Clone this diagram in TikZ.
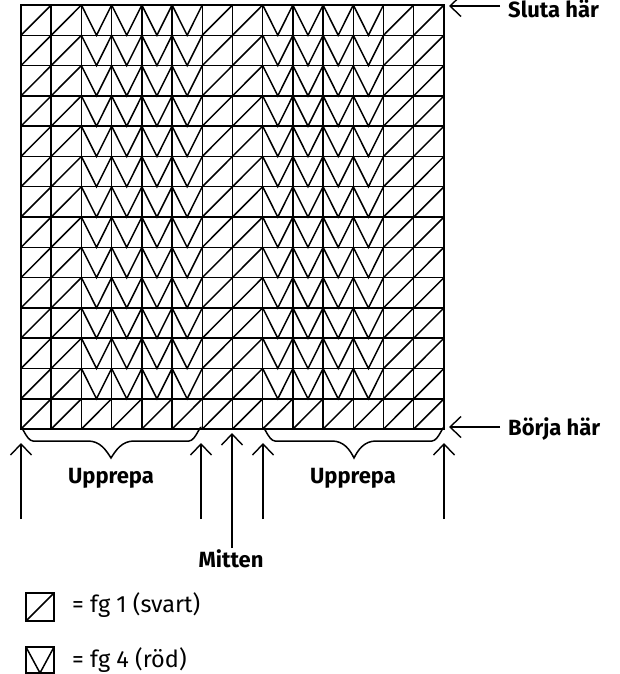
\documentclass[tikz,border=0pt]{standalone}
\usepackage{fontspec}
\setmainfont{Fira Sans}
\usetikzlibrary{positioning,arrows.meta}

\begin{document}
\begin{tikzpicture}[
  x=1pt,y=-1pt,
  font=\fontsize{22}{24}\selectfont,
  >={Straight Barb[length=11pt,width=21pt]},
  line/.style   ={line width=1.5pt,line join=miter},
  cellline/.style={line width=1.5pt},
  pointer/.style={->,line width=1.4pt},
  brace/.style  ={line width=1.5pt},
  lab/.style    ={font=\bfseries\fontsize{22}{24}\selectfont,inner sep=0pt},
  keylab/.style ={font=\fontsize{23.5}{24}\selectfont,inner sep=0pt,anchor=base west},
]
\useasboundingbox (0,0) rectangle (619,674);

% =====================================================================
% CHART: 14 x 14 cells, V cells in two repeats of four columns
% =====================================================================
\begin{scope}[shift={(21,5)},x=30.21pt,y=-30.29pt]
  \foreach \c in {0,...,13}{
    \foreach \r in {0,...,13}{
      \draw[cellline] (\c,\r) rectangle (\c+1,\r+1);
    }
  }
  \foreach \c in {0,...,13}{
    \foreach \r in {0,...,13}{
      \pgfmathtruncatemacro{\isv}{((\c>1 && \c<6) || (\c>7 && \c<12)) && \r<13}
      \ifnum\isv=1
        \draw[cellline] (\c,\r) -- (\c+0.5,\r+1) -- (\c+1,\r);
      \else
        \draw[cellline] (\c,\r+1) -- (\c+1,\r);
      \fi
    }
  }
  \draw[line width=2.2pt] (0,14) -- (14,14);
\end{scope}

% =====================================================================
% START / END POINTERS
% =====================================================================
\coordinate (slutaFrom) at (500,6);
\coordinate (slutaTo) at (449,6);
\draw[pointer] (slutaFrom) -- (slutaTo);
\node[lab,anchor=base west] (sluta) at (508,18) {Sluta här};

\coordinate (borjaFrom) at (500,427);
\coordinate (borjaTo) at (449,427);
\draw[pointer] (borjaFrom) -- (borjaTo);
\node[lab,anchor=base west] (borja) at (508,435) {Börja här};

% =====================================================================
% REPEAT BRACES
% =====================================================================
\draw[brace] (21,429) to[out=90,in=180] (33,441) -- (88,441)
  .. controls (100,441) and (106,450) .. (111,458)
  .. controls (116,450) and (122,441) .. (134,441) -- (189,441)
  to[out=0,in=90] (201,429);
\draw[brace] (263,429) to[out=90,in=180] (275,441) -- (332,441)
  .. controls (344,441) and (350,450) .. (354,458)
  .. controls (358,450) and (364,441) .. (376,441) -- (432,441)
  to[out=0,in=90] (444,429);

\node[lab,anchor=base] (rep1) at (111,483) {Upprepa};
\node[lab,anchor=base] (rep2) at (353,483) {Upprepa};

% up arrows at the repeat edges
\foreach \x/\n in {21/a,201/b,263/c,444/d}{
  \coordinate (up\n From) at (\x,519);
  \coordinate (up\n To) at (\x,443);
  \draw[pointer] (up\n From) -- (up\n To);
}

% centre
\coordinate (midFrom) at (232,548);
\coordinate (midTo) at (232,433);
\draw[pointer] (midFrom) -- (midTo);
\node[lab,anchor=base] (mitten) at (231,567) {Mitten};

% =====================================================================
% KEY
% =====================================================================
\draw[line] (26,593) rectangle (54,621);
\draw[line] (26,621) -- (54,593);
\node[keylab] (key1) at (72,612) {= fg 1 (svart)};

\draw[line] (26,647) rectangle (54,673);
\draw[line] (26,647) -- (40,673) -- (54,647);
\node[keylab] (key4) at (72,667) {= fg 4 (röd)};

\end{tikzpicture}
\end{document}
